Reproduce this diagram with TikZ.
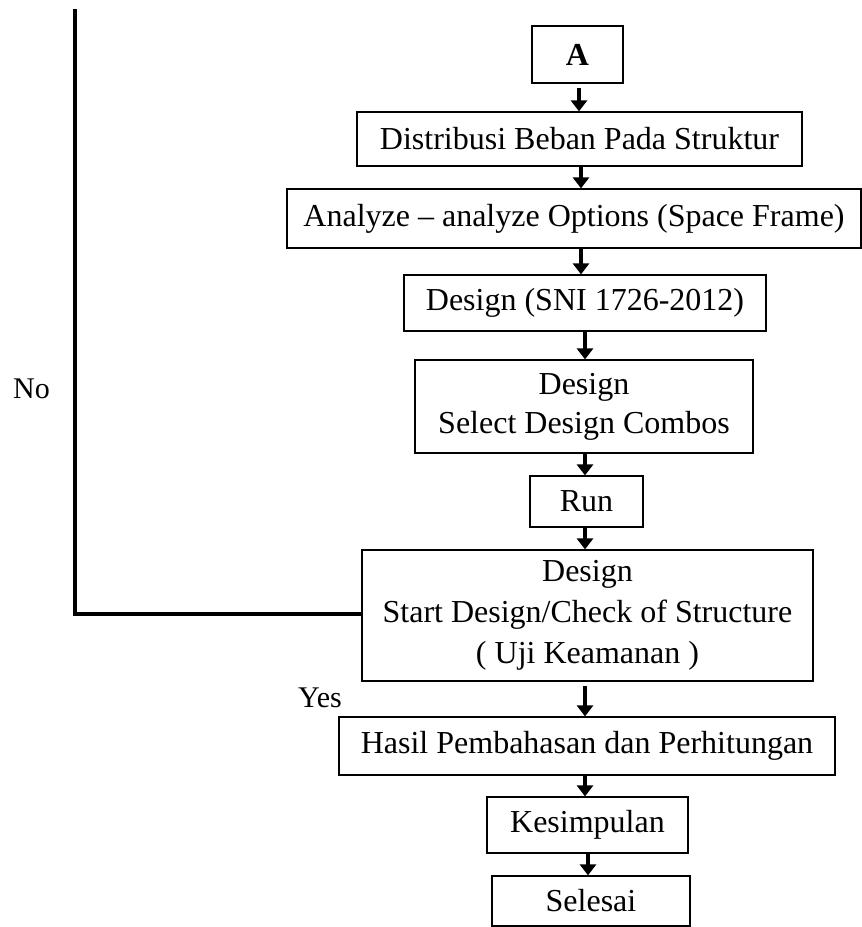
\documentclass[tikz,border=0pt]{standalone}
\usepackage{fontspec}
\setmainfont{Liberation Serif}
\usetikzlibrary{arrows.meta}
\begin{document}
\begin{tikzpicture}[x=1pt,y=-1pt,
  box/.style={draw=black,line width=1.2pt,inner sep=0pt,align=center,
    font=\fontsize{32}{39}\selectfont},
  arr/.style={line width=3.5pt,-{Triangle[length=11pt,width=16pt]}},
  fb/.style={line width=4pt,line join=miter},
  lbl/.style={inner sep=0pt,font=\fontsize{30}{36}\selectfont}]
\useasboundingbox (0,0) rectangle (862,927);
\node[box,minimum width=91pt,minimum height=57pt] (A) at (577.5,54.5) {\textbf{A}};
\node[box,minimum width=445pt,minimum height=54pt] (D) at (579.5,139) {Distribusi Beban Pada Struktur};
\node[box,minimum width=574pt,minimum height=59pt] (An) at (574,218.5) {Analyze -- analyze Options (Space Frame)};
\node[box,minimum width=362pt,minimum height=56pt] (S) at (585,303) {Design (SNI 1726-2012)};
\node[box,minimum width=338pt,minimum height=93pt] (Se) at (584,406.5) {Design\\Select Design Combos};
\node[box,minimum width=113pt,minimum height=51pt] (R) at (586.5,501.5) {Run};
\node[box,minimum width=451pt,minimum height=131pt,font=\fontsize{32}{41}\selectfont] (St) at (587.5,615.5) {Design\\Start Design/Check of Structure\\( Uji Keamanan )};
\node[box,minimum width=496pt,minimum height=58pt] (H) at (587,746) {Hasil Pembahasan dan Perhitungan};
\node[box,minimum width=201pt,minimum height=56pt] (K) at (587.5,825) {Kesimpulan};
\node[box,minimum width=198pt,minimum height=50pt] (E) at (591,901) {Selesai};
\node[lbl,anchor=base west] (no) at (13,398) {No};
\node[lbl,anchor=base west] (yes) at (298,707) {Yes};
\draw[arr] ([xshift=1.5pt,yshift=-4pt]A.south) -- ([xshift=1.5pt]A.south |- D.north);
\draw[arr] ([xshift=1.5pt]D.south) -- ([xshift=1.5pt]D.south |- An.north);
\draw[arr] ([xshift=7pt]An.south) -- ([xshift=7pt]An.south |- S.north);
\draw[arr] ([xshift=0pt]S.south) -- ([xshift=0pt]S.south |- Se.north);
\draw[arr] ([xshift=1pt]Se.south) -- ([xshift=1pt]Se.south |- R.north);
\draw[arr] ([xshift=-1.5pt]R.south) -- ([xshift=-1.5pt]R.south |- St.north);
\draw[arr] ([xshift=-2.5pt,yshift=-4pt]St.south) -- ([xshift=-2.5pt]St.south |- H.north);
\draw[arr] ([xshift=-2pt]H.south) -- ([xshift=-2pt]H.south |- K.north);
\draw[arr] ([xshift=0.5pt]K.south) -- ([xshift=0.5pt]K.south |- E.north);
\coordinate (top) at (75,9);
\draw[fb] (top) |- ([yshift=1.5pt]St.west);
\end{tikzpicture}
\end{document}
